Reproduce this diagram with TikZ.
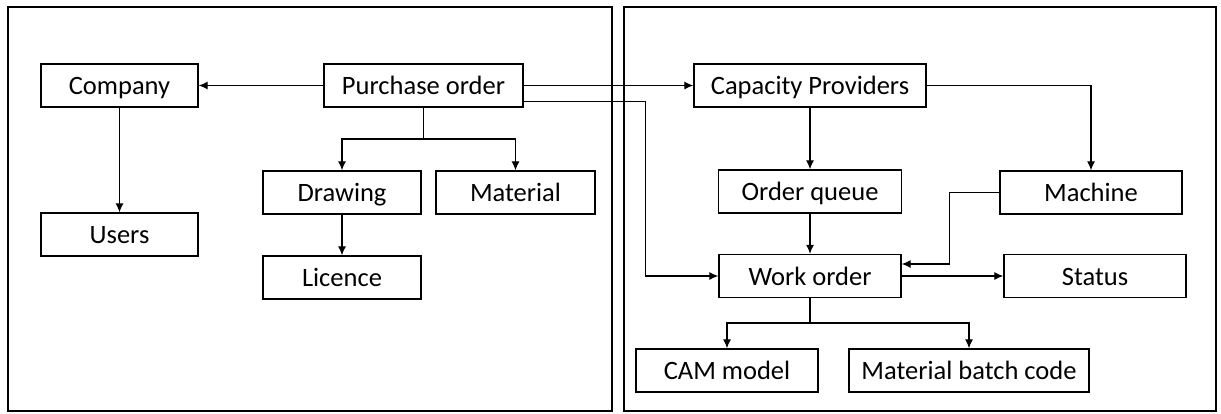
\documentclass[tikz,border=0pt]{standalone}
\usepackage{fontspec}
\setmainfont{Carlito}
\usetikzlibrary{arrows.meta}
\tikzstyle{frame}=[line width=2.6pt]
\tikzstyle{box}=[draw,line width=1.3pt,minimum height=43pt,inner sep=0pt,text height=20pt,text depth=2pt,font=\fontsize{26.5}{30}\selectfont]
\tikzstyle{myarrow}=[line width=1.2pt,-{Latex[length=9pt,width=8pt]}]
\tikzstyle{myline}=[line width=1.2pt]

\begin{document}
\begin{tikzpicture}[x=1pt,y=-1pt]
		\useasboundingbox (0,0) rectangle (1221,413);
		\draw[frame] (8,7) rectangle (612,411);
		\draw[frame] (624,7) rectangle (1216,411);

		% left part
		\node[box,minimum width=157pt] (company) at (119.5,85.5) {Company};
		\node[box,minimum width=199pt] (po) at (423.5,85.5) {Purchase order};
		\node[box,minimum width=157pt] (users) at (119.5,234.5) {Users};
		\node[box,minimum width=158pt] (drawing) at (342,192.5) {Drawing};
		\node[box,minimum width=159pt] (material) at (515.5,192.5) {Material};
		\node[box,minimum width=158pt] (licence) at (342,277.5) {Licence};

		% right part
		\node[box,minimum width=232pt] (cp) at (810,85.5) {Capacity Providers};
		\node[box,minimum width=183pt] (oq) at (810,191.5) {Order queue};
		\node[box,minimum width=182pt] (machine) at (1091,192.5) {Machine};
		\node[box,minimum width=182pt] (wo) at (810,276) {Work order};
		\node[box,minimum width=182pt] (status) at (1095,276) {Status};
		\node[box,minimum width=182pt] (cam) at (727,370.5) {CAM model};
		\node[box,minimum width=240pt] (mbc) at (969,370.5) {Material batch code};

		\coordinate (pobr) at (423.5,139);
		\coordinate (wobr) at (810,323);

		\draw[myarrow] (po) -- (company);
		\draw[myarrow] (company) -- (users);
		\draw[myline] (po) -- (pobr);
		\draw[myarrow] (pobr) -| (drawing);
		\draw[myarrow] (pobr) -| (material);
		\draw[myarrow] (drawing) -- (licence);

		\draw[myarrow] (po) -- (cp);
		\draw[myarrow] ([yshift=-16pt]po.east) -| ([xshift=-73pt]wo.west) -- (wo);

		\draw[myarrow] (cp) -- (oq);
		\draw[myarrow] (cp) -| (machine);
		\draw[myarrow] (oq) -- (wo);
		\draw[myarrow] (machine.west) -- ++(-50,0) |- ([yshift=12pt]wo.east);
		\draw[myarrow] (wo) -- (status);
		\draw[myline] (wo) -- (wobr);
		\draw[myarrow] (wobr) -| (cam);
		\draw[myarrow] (wobr) -| (mbc);
	\end{tikzpicture}
\end{document}
